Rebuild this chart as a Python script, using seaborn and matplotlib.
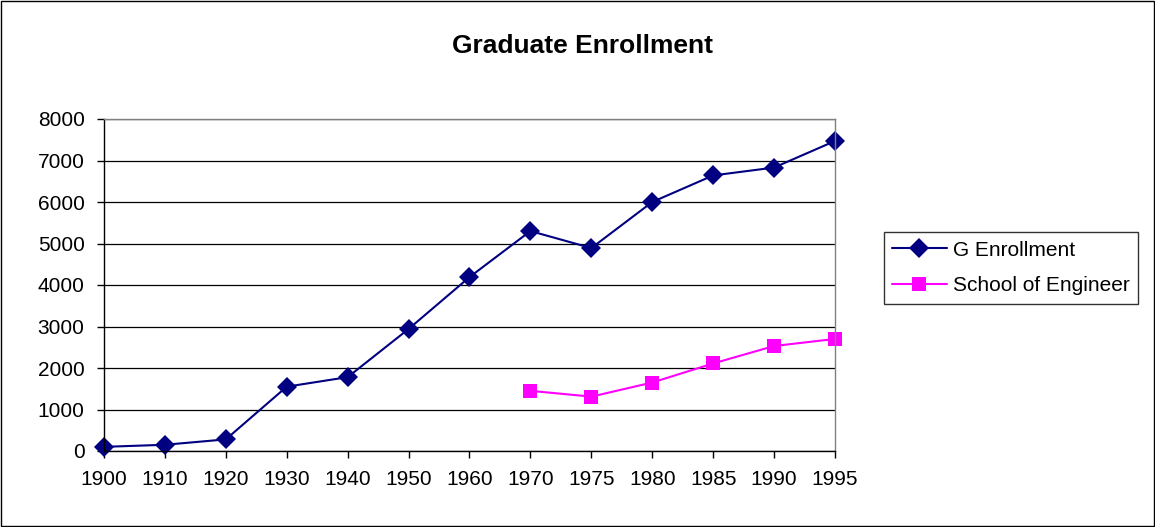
import pandas as pd
import numpy as np
import matplotlib.pyplot as plt
import seaborn as sns
from matplotlib.patches import Rectangle

years = ["1900", "1910", "1920", "1930", "1940", "1950", "1960",
         "1970", "1975", "1980", "1985", "1990", "1995"]
g_enrollment = [100, 150, 280, 1550, 1780, 2940, 4190,
                5300, 4890, 6000, 6640, 6830, 7470]
eng_years = ["1970", "1975", "1980", "1985", "1990", "1995"]
school_of_engineer = [1450, 1310, 1650, 2110, 2530, 2700]

series_names = ["G Enrollment", "School of Engineer"]
colors = ["#000080", "#FF00FF"]
markers = ["D", "s"]

# build a long table for seaborn, x as category position
pos = {y: i for i, y in enumerate(years)}
df = pd.concat([
    pd.DataFrame({"x": [pos[y] for y in years], "value": g_enrollment,
                  "series": series_names[0]}),
    pd.DataFrame({"x": [pos[y] for y in eng_years], "value": school_of_engineer,
                  "series": series_names[1]}),
])

sns.set_style("white")
plt.rcParams['font.family'] = ['Liberation Sans', 'DejaVu Sans']
plt.rcParams['text.color'] = 'black'
plt.rcParams['xtick.color'] = 'black'
plt.rcParams['ytick.color'] = 'black'

fig = plt.figure(figsize=(11.55, 5.27), dpi=100)
ax = fig.add_axes([104 / 1155, 1 - 451 / 527, (835 - 104) / 1155, (451 - 119) / 527])

sns.lineplot(data=df, x="x", y="value", hue="series", style="series",
             palette=colors, markers=markers, dashes=False, markersize=10,
             linewidth=1.5, markeredgewidth=0, ax=ax, clip_on=False)

ax.set_xlim(0, len(years) - 1)
ax.set_ylim(0, 8000)
ax.set_xticks(range(len(years)))
ax.set_xticklabels(years)
ax.set_yticks(range(0, 8001, 1000))
ax.set_xlabel("")
ax.set_ylabel("")
ax.yaxis.grid(True, color="black", linewidth=0.9)
ax.set_axisbelow(True)
ax.tick_params(axis="both", labelsize=15, length=5, width=1, color="black",
               labelcolor="black", direction="out", bottom=True, left=True, pad=9)

for side in ["left", "bottom"]:
    ax.spines[side].set_color("black")
    ax.spines[side].set_linewidth(1)
for side in ["top", "right"]:
    ax.spines[side].set_color("#808080")
    ax.spines[side].set_linewidth(1)

fig.text(583 / 1155, 1 - 46 / 527, "Graduate Enrollment", ha="center", va="center",
         fontsize=19, fontweight="bold", color="black")

leg = ax.legend(loc="center left", bbox_to_anchor=(884 / 1155, 1 - 268 / 527),
                bbox_transform=fig.transFigure, frameon=True, fancybox=False,
                fontsize=15, handlelength=2.6, borderpad=0.4, labelspacing=0.8,
                handletextpad=0.3, borderaxespad=0, title=None)
leg.get_frame().set_edgecolor("black")
leg.get_frame().set_linewidth(1)

fig.patches.append(Rectangle((1 / 1155, 1 / 527), 1 - 2 / 1155, 1 - 2 / 527,
                             transform=fig.transFigure, fill=False,
                             edgecolor="black", linewidth=1))

fig.savefig("out.png", dpi=100)
